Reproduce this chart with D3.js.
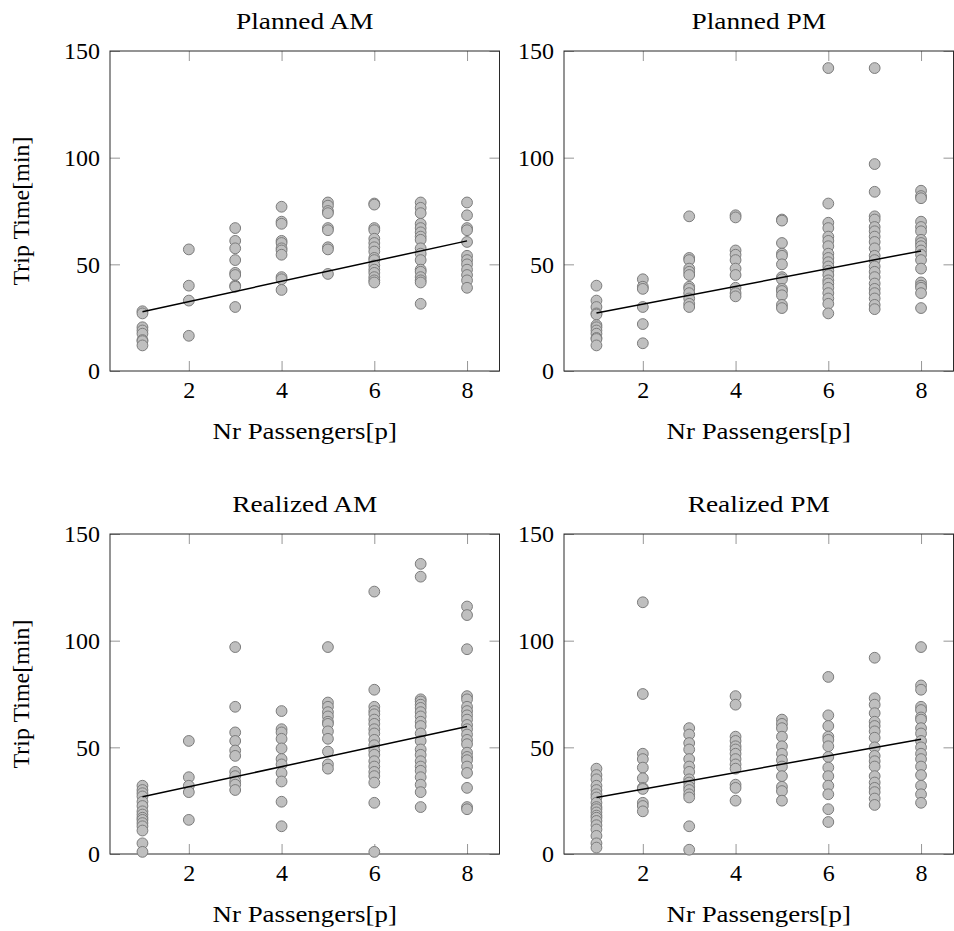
<!DOCTYPE html>
<html>
<head>
<meta charset="utf-8">
<script src="https://cdn.jsdelivr.net/npm/d3@7"></script>
<style>
  body { margin: 0; background: #fff; }
  svg text { font-family: 'Liberation Serif', 'DejaVu Serif', serif !important; fill: #000; }
</style>
</head>
<body>
<svg width="954" height="931"></svg>
<script>
// passenger counts on the x axis
var passengers = [1, 2, 3, 4, 5, 6, 7, 8];
var xTicks = [2, 4, 6, 8];
var yTicks = [0, 50, 100, 150];
var titles = ["Planned AM", "Planned PM", "Realized AM", "Realized PM"];

// trip times per passenger count (index 0 -> 1 passenger)
var plannedAM = [
    [28, 27, 20.5, 19, 17.5, 14.5, 14, 12],
    [57, 40, 33, 16.5],
    [67, 61, 57.5, 52, 46, 45, 40, 39.5, 30],
    [77, 70, 69, 61, 60, 57.5, 56.5, 54.5, 44, 43, 38],
    [79, 77.5, 75, 74, 67, 66, 58, 57, 45.5],
    [78.5, 78, 67, 66, 62, 60, 58, 56, 53, 52, 49.5, 47.5, 46, 44, 42.5, 41.5],
    [79, 76.5, 74, 69, 67, 65, 63, 61.5, 57.5, 55, 52, 47.5, 46.5, 44, 42.5, 41.5, 31.5],
    [79, 73, 67, 66, 60.5, 54, 52, 50, 47.5, 45, 42.5, 39]
];
var plannedPM = [
    [40, 33, 30, 27, 26.5, 21.5, 20.5, 19, 17.5, 15.5, 15, 12],
    [43, 39.5, 38.5, 30, 22, 13],
    [72.5, 53, 52, 48, 46.5, 45, 39.5, 38.5, 36.5, 34, 31.5, 30],
    [73, 72, 56.5, 54.5, 52, 48, 45, 39, 36.5, 35],
    [71, 70.5, 60, 55, 54, 50, 44, 43, 38.5, 37.5, 35.5, 31, 29.5],
    [142, 78.5, 69.5, 67, 63, 61, 58.5, 55, 53, 51, 49, 47, 45, 42.5, 41, 39, 36.5, 34, 31.5, 27],
    [142, 97, 84, 72.5, 71, 67.5, 65.5, 63, 60.5, 57.5, 54, 52, 49, 46.5, 44, 41, 38.5, 36.5, 34, 31, 29],
    [84.5, 82, 81, 70, 67.5, 65.5, 61.5, 60, 58.5, 56.5, 54.5, 52, 48, 41.5, 40, 39, 36.5, 29.5]
];
var realizedAM = [
    [32, 30, 28.5, 27, 24.5, 22.5, 20, 18.5, 17, 16, 14.5, 13, 11, 5, 1],
    [53, 36, 32, 29, 16],
    [97, 69, 57, 53, 48.5, 46, 38.5, 36.5, 34, 32.5, 30],
    [67, 58.5, 57, 54, 49.5, 44.5, 42, 38, 34, 24.5, 13],
    [97, 71, 69, 66.5, 64.5, 62, 61, 57.5, 54, 48, 42, 40],
    [123, 77, 69, 67, 65.5, 63, 61, 58.5, 56.5, 53.5, 51, 48.5, 46.5, 43.5, 41, 38.5, 36.5, 33.5, 24, 1],
    [136, 130, 72.5, 71.5, 70, 68.5, 66.5, 64.5, 62, 60, 56.5, 53, 49, 46.5, 43.5, 41, 39, 36, 32.5, 29, 22],
    [116, 112, 96, 74, 72.5, 69, 67, 65, 63, 60.5, 58.5, 56, 53.5, 51.5, 47.5, 45.5, 44, 41, 38, 31, 22, 21]
];
var realizedPM = [
    [40, 37, 35, 32, 30, 28, 26.5, 24, 22, 21, 19.5, 18, 17, 15.5, 13.5, 11.5, 8.5, 5, 3],
    [118, 75, 47, 44.5, 40.5, 35.5, 31, 30.5, 24, 22.5, 20],
    [59, 56, 52, 49, 44.5, 41, 38.5, 35, 33.5, 31.5, 30, 28, 26.5, 13, 2],
    [74, 70, 55, 53, 50.5, 49, 47, 44.5, 42, 40, 32.5, 31, 25],
    [63, 61, 59, 55, 50.5, 47, 44, 41, 36.5, 31.5, 29.5, 25],
    [83, 65, 60, 55, 53.5, 50.5, 45.5, 40.5, 36.5, 32, 28, 21, 15],
    [92, 73, 70, 66, 62, 60, 57.5, 54.5, 50, 46, 43.5, 41, 36.5, 33.5, 31, 29, 26, 23],
    [97, 79, 77, 69, 67.5, 64, 63, 59, 56.5, 53, 50, 47, 44.5, 41, 37, 32, 28, 24]
];

// fitted trend line: value at 1 and at 8 passengers
var trendAM = [27.8, 61];
var trendPM = [27.2, 56.3];
var trendRealAM = [26.8, 59.8];
var trendRealPM = [26.5, 53.8];

var panelData = [plannedAM, plannedPM, realizedAM, realizedPM];
var trends = [trendAM, trendPM, trendRealAM, trendRealPM];

var svg = d3.select("svg");
var width = 389.5, height = 320;
var lefts = [110, 564], tops = [51, 534];
var serif = "'Liberation Serif', 'DejaVu Serif', serif";

// the original uses Computer Modern, which runs wider than Times
function widen(sel, k) {
    sel.each(function() {
        var w = this.getComputedTextLength();
        d3.select(this).attr("textLength", w * k).attr("lengthAdjust", "spacingAndGlyphs");
    });
}

panelData.forEach(function(series, i) {
    var left = lefts[i % 2], top = tops[Math.floor(i / 2)];
    var g = svg.append("g").attr("transform", "translate(" + left + "," + top + ")");

    var xScale = d3.scaleLinear().domain([0.3, 8.7]).range([0, width]);
    var yScale = d3.scaleLinear().domain([0, 150]).range([height, 0]);

    // axes with inward ticks on all four sides
    g.append("g").attr("transform", "translate(0," + height + ")")
        .call(d3.axisBottom(xScale).tickValues(xTicks).tickSizeInner(-10).tickSizeOuter(0).tickPadding(10));
    g.append("g")
        .call(d3.axisTop(xScale).tickValues(xTicks).tickSizeInner(-10).tickSizeOuter(0).tickFormat(""));
    g.append("g")
        .call(d3.axisLeft(yScale).tickValues(yTicks).tickSizeInner(-10).tickSizeOuter(0).tickPadding(10));
    g.append("g").attr("transform", "translate(" + width + ",0)")
        .call(d3.axisRight(yScale).tickValues(yTicks).tickSizeInner(-10).tickSizeOuter(0).tickFormat(""));

    g.selectAll("g").attr("font-family", serif);
    g.selectAll(".domain").remove();
    g.selectAll(".tick line").attr("stroke", "#8a8a8a").attr("stroke-width", 0.9);
    g.selectAll(".tick text")
        .style("font-family", serif)
        .attr("font-size", 24)
        .attr("fill", "#000");

    g.append("rect")
        .attr("width", width).attr("height", height)
        .attr("fill", "none").attr("stroke", "#2a2a2a").attr("stroke-width", 1);

    // scatter points
    var pts = [];
    series.forEach(function(vals, k) {
        vals.forEach(function(v) { pts.push({ x: passengers[k], y: v }); });
    });
    g.selectAll("circle").data(pts).enter().append("circle")
        .attr("cx", function(d) { return xScale(d.x); })
        .attr("cy", function(d) { return yScale(d.y); })
        .attr("r", 5.4)
        .attr("fill", "#bfbfbf")
        .attr("stroke", "#7c7c7c")
        .attr("stroke-width", 1);

    // trend line
    var tr = trends[i];
    var line = d3.line()
        .x(function(d) { return xScale(d[0]); })
        .y(function(d) { return yScale(d[1]); });
    g.append("path")
        .datum([[passengers[0], tr[0]], [passengers[passengers.length - 1], tr[1]]])
        .attr("d", line)
        .attr("fill", "none")
        .attr("stroke", "#000")
        .attr("stroke-width", 1.5);

    // title
    g.append("text")
        .attr("x", width / 2).attr("y", -22)
        .attr("text-anchor", "middle")
        .style("font-family", serif)
        .attr("font-size", 24)
        .text(titles[i])
        .call(widen, 1.14);

    // x label
    g.append("text")
        .attr("x", width / 2).attr("y", height + 68)
        .attr("text-anchor", "middle")
        .style("font-family", serif)
        .attr("font-size", 24)
        .text("Nr Passengers[p]")
        .call(widen, 1.12);

    // y label only on left column
    if (i % 2 === 0) {
        g.append("text")
            .attr("transform", "translate(" + (29 - left) + "," + (height / 2) + ") rotate(-90)")
            .attr("text-anchor", "middle")
            .style("font-family", serif)
            .attr("font-size", 24)
            .text("Trip Time[min]");
    }
});
</script>
</body>
</html>
